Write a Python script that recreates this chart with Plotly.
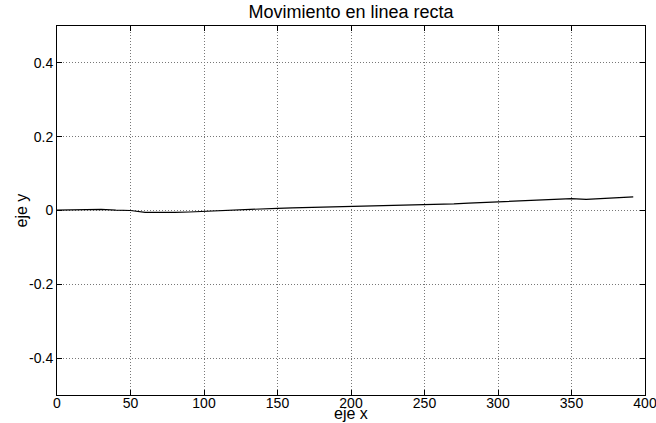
import plotly.graph_objects as go

x_vals = [0, 10, 20, 30, 40, 50, 60, 70, 80, 90, 100, 110, 120, 130, 140, 150, 160, 170, 180, 190,
          200, 210, 220, 230, 240, 250, 260, 270, 280, 290, 300, 310, 320, 330, 340, 350, 360, 370, 380, 392]
y_vals = [0.001, 0.002, 0.003, 0.003, 0.001, 0.000, -0.005, -0.006, -0.005, -0.004,
          -0.002, 0.000, 0.002, 0.003, 0.004, 0.006, 0.007, 0.008, 0.009, 0.010,
          0.010, 0.011, 0.011, 0.012, 0.014, 0.015, 0.016, 0.018, 0.020, 0.022,
          0.023, 0.025, 0.028, 0.029, 0.031, 0.032, 0.030, 0.032, 0.036, 0.037]
x_ticks = [0, 50, 100, 150, 200, 250, 300, 350, 400]
y_ticks = [-0.4, -0.2, 0, 0.2, 0.4]
y_tick_text = ["-0.4", "-0.2", "0", "0.2", "0.4"]

FONT = "Liberation Sans, Arial, sans-serif"

fig = go.Figure()
fig.add_trace(go.Scatter(x=x_vals, y=y_vals, mode="lines",
                         line=dict(color="black", width=1.2), showlegend=False))

axis_common = dict(showline=True, linecolor="black", linewidth=1, mirror="ticks",
                   ticks="inside", ticklen=5, tickcolor="black",
                   showgrid=True, gridcolor="#777777", griddash="1px,2px", gridwidth=1,
                   zeroline=False, ticklabeloverflow="allow",
                   tickfont=dict(family=FONT, size=14, color="black"))

fig.update_xaxes(range=[0, 400], tickvals=x_ticks, ticklabelstandoff=-5, **axis_common)
fig.update_yaxes(range=[-0.5, 0.5], tickvals=y_ticks, ticktext=y_tick_text,
                 ticklabelstandoff=0, **axis_common)

fig.update_layout(
    width=656, height=423,
    margin=dict(l=57, r=11, t=26, b=28, autoexpand=False),
    paper_bgcolor="white", plot_bgcolor="white",
    font=dict(family=FONT, color="black"),
    title=dict(text="Movimiento en linea recta", x=351 / 656, xanchor="center",
               y=1 - 12 / 423, yanchor="middle", font=dict(size=18, color="black")),
    annotations=[
        dict(text="eje x", xref="paper", yref="paper", x=0.5, y=-18 / 369, xanchor="center",
             yanchor="middle", showarrow=False, font=dict(size=16, color="black")),
        dict(text="eje y", xref="paper", yref="paper", x=-36 / 588, y=0.5, xanchor="center",
             yanchor="middle", showarrow=False, textangle=-90, font=dict(size=16, color="black")),
    ],
)

fig.write_html("out.html", config={"displayModeBar": False},
               post_script="document.body.style.margin='0';")
